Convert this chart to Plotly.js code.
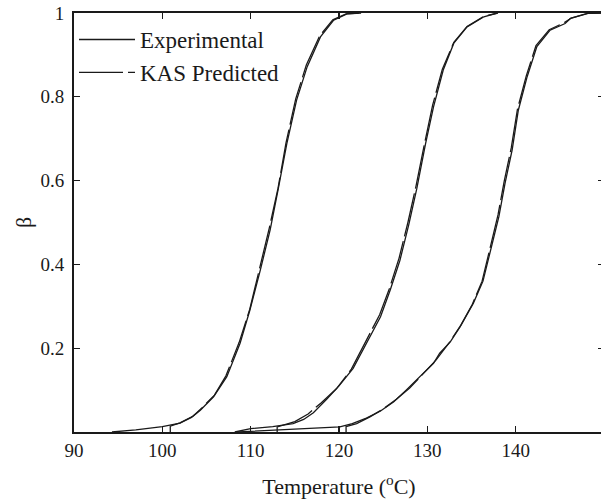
<!DOCTYPE html>
<html>
<head>
<meta charset="utf-8">
<script src="https://cdn.plot.ly/plotly-3.0.1.min.js"></script>
<style>
html,body{margin:0;padding:0;overflow:hidden;background:#fff;}
#chart{width:620px;height:503px;}
</style>
</head>
<body>
<div id="chart"></div>
<script>
// Curve 1 (lowest temperatures)
const exp1T = [94.3, 97, 100, 102, 103.3, 104.3, 105.8, 107.3, 108.8, 109.9, 111.1, 112.2, 113.1, 114.1, 115.2, 116.4, 117.9, 119.4, 120.9, 122.5];
const exp1B = [0, 0.005, 0.013, 0.021, 0.035, 0.052, 0.084, 0.132, 0.212, 0.29, 0.387, 0.482, 0.578, 0.689, 0.792, 0.872, 0.943, 0.983, 0.998, 1];
const pred1T = [100.9, 100.9, 102, 103.5, 104.5, 105.9, 107.2, 108.7, 109.9, 111, 112.1, 113.1, 114, 115.1, 116.3, 117.8, 119.3, 120.8, 122.5];
const pred1B = [0, 0.014, 0.022, 0.038, 0.058, 0.088, 0.134, 0.214, 0.293, 0.39, 0.486, 0.582, 0.69, 0.795, 0.876, 0.945, 0.984, 0.998, 1];

// Curve 2
const exp2T = [108.2, 110, 112.5, 114.8, 116, 117.1, 118.6, 120, 121.6, 123.1, 124.7, 125.8, 126.9, 127.9, 128.8, 129.8, 130.7, 131.8, 133, 134.5, 136.4, 137.9];
const exp2B = [0, 0.008, 0.013, 0.02, 0.03, 0.046, 0.078, 0.11, 0.152, 0.212, 0.275, 0.339, 0.41, 0.495, 0.58, 0.688, 0.776, 0.864, 0.928, 0.967, 0.991, 1];
const pred2T = [113, 113, 115, 116.5, 118, 119.7, 121.4, 123, 124.6, 125.7, 126.8, 127.8, 128.7, 129.7, 130.6, 131.7, 133, 134.5, 136.4, 138];
const pred2B = [0, 0.012, 0.025, 0.043, 0.07, 0.103, 0.15, 0.215, 0.28, 0.342, 0.415, 0.5, 0.585, 0.69, 0.78, 0.866, 0.93, 0.968, 0.992, 1];

// Curve 3 (highest temperatures)
const exp3T = [108.5, 115, 120.1, 121.5, 123.1, 124.7, 126.2, 127.6, 129.2, 130.7, 131.4, 132.6, 133.7, 135.2, 136.3, 137.1, 138.1, 138.8, 139.6, 140.3, 141.3, 142.4, 143.9, 145.6, 146.2, 148.1, 150];
const exp3B = [0, 0.006, 0.012, 0.02, 0.033, 0.05, 0.072, 0.1, 0.132, 0.164, 0.188, 0.215, 0.251, 0.307, 0.36, 0.426, 0.514, 0.594, 0.673, 0.768, 0.848, 0.92, 0.959, 0.975, 0.987, 0.999, 1];
const pred3T = [120.8, 120.8, 122, 123.5, 125, 126.5, 128, 129.4, 131, 132.5, 133.8, 135.1, 136.2, 137, 138, 138.7, 139.5, 140.2, 141.2, 142.3, 143.8, 145.5, 146.3, 148.2, 150];
const pred3B = [0, 0.013, 0.02, 0.036, 0.055, 0.078, 0.105, 0.136, 0.172, 0.214, 0.255, 0.305, 0.36, 0.43, 0.518, 0.598, 0.678, 0.77, 0.85, 0.922, 0.96, 0.977, 0.988, 0.999, 1];

const xTicks = [90, 100, 110, 120, 130, 140];
const yTicks = [0.2, 0.4, 0.6, 0.8, 1];
const yTickText = ['0.2', '0.4', '0.6', '0.8', '1'];
const seriesNames = ['Experimental', 'KAS Predicted'];

const ink = '#1a1a1a';
const font = '"Liberation Serif", "Times New Roman", Times, serif';

function expTrace(x, y, show) {
  return {x: x, y: y, type: 'scatter', mode: 'lines', name: seriesNames[0],
    legendgroup: 'exp', showlegend: show, line: {color: ink, width: 1.3}};
}
function predTrace(x, y, show) {
  return {x: x, y: y, type: 'scatter', mode: 'lines', name: seriesNames[1],
    legendgroup: 'pred', showlegend: show, line: {color: ink, width: 1.3, dash: '44px,5px'}};
}

const data = [
  expTrace(exp1T, exp1B, true),
  predTrace(pred1T, pred1B, true),
  expTrace(exp2T, exp2B, false),
  predTrace(pred2T, pred2B, false),
  expTrace(exp3T, exp3B, false),
  predTrace(pred3T, pred3B, false)
];

const layout = {
  width: 620, height: 503,
  margin: {l: 74, r: 16, t: 13, b: 71, pad: 0},
  paper_bgcolor: '#fff', plot_bgcolor: '#fff',
  font: {family: font, color: ink, size: 19},
  showlegend: true,
  legend: {x: 0, y: 0.988, xanchor: 'left', yanchor: 'top', bgcolor: 'rgba(0,0,0,0)',
    font: {family: font, size: 23, color: ink}, itemwidth: 56, tracegroupgap: 0,
    traceorder: 'normal'},
  xaxis: {
    range: [90, 150], tickmode: 'array', tickvals: xTicks,
    ticks: 'inside', ticklen: 6, tickwidth: 1.2, tickcolor: ink,
    showline: true, linecolor: ink, linewidth: 2, mirror: 'ticks',
    showgrid: false, zeroline: false,
    tickfont: {family: font, size: 19, color: ink},
    title: {text: 'Temperature (<sup>o</sup>C)', font: {family: font, size: 22, color: ink}, standoff: 19}
  },
  yaxis: {
    range: [0, 1], tickmode: 'array', tickvals: yTicks, ticktext: yTickText,
    ticks: 'inside', ticklen: 6, tickwidth: 1.2, tickcolor: ink,
    showline: true, linecolor: ink, linewidth: 2, mirror: 'ticks',
    showgrid: false, zeroline: false, ticklabelstandoff: 4,
    tickfont: {family: font, size: 19, color: ink},
    title: {text: 'β', font: {family: font, size: 22, color: ink}, standoff: 3}
  }
};

Plotly.newPlot('chart', data, layout, {displayModeBar: false, staticPlot: true});
</script>
</body>
</html>
